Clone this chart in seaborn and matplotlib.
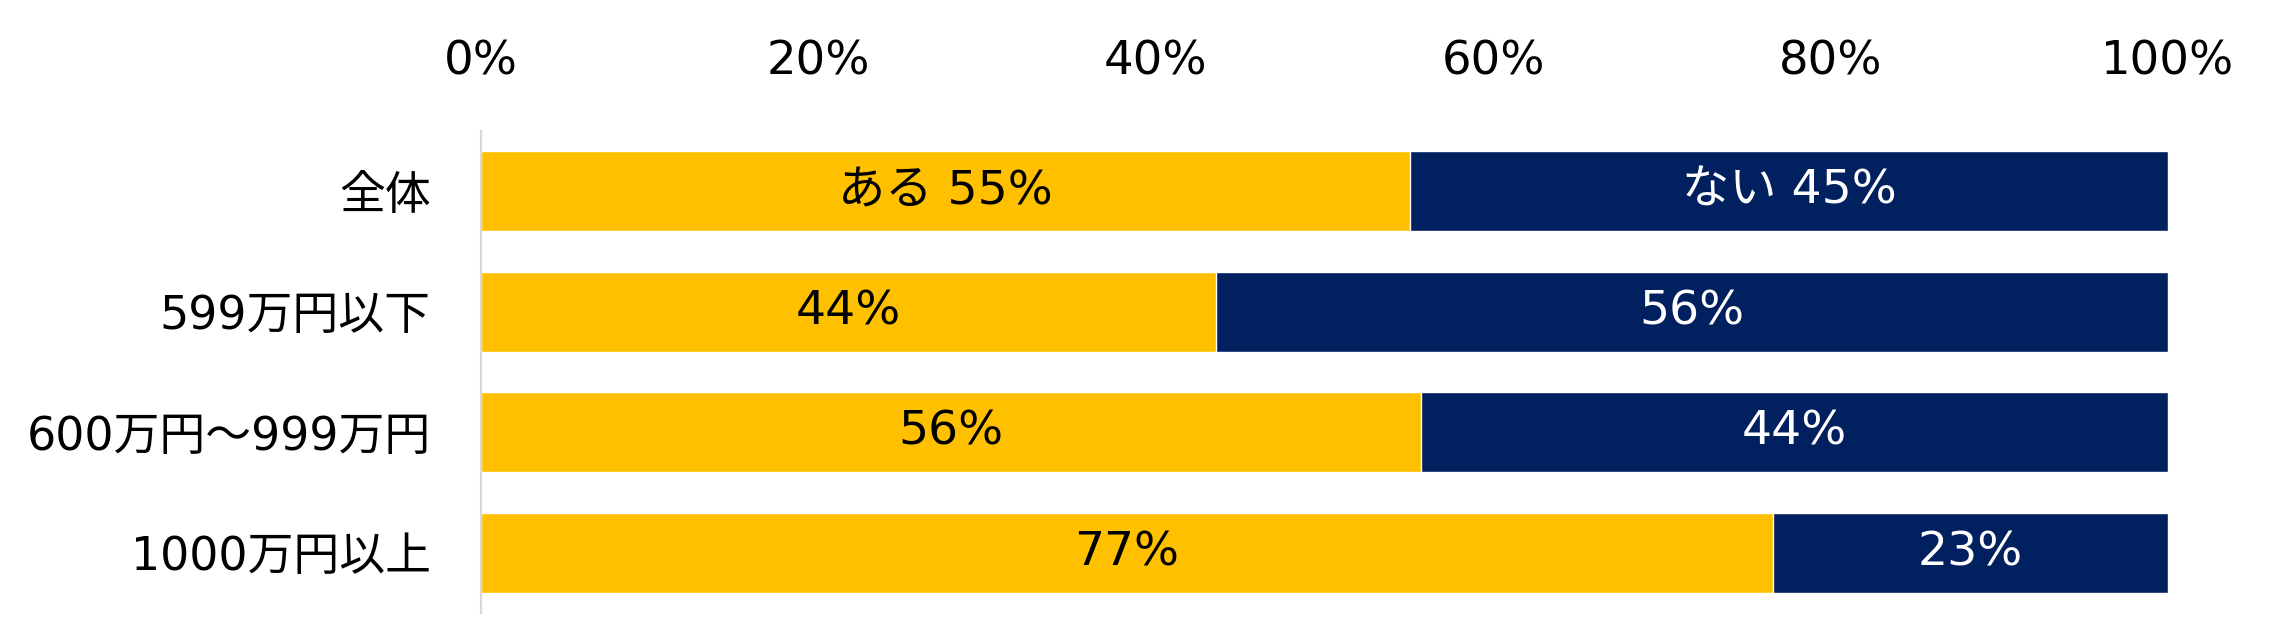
import pandas as pd
import seaborn as sns
import matplotlib.pyplot as plt
from matplotlib.ticker import PercentFormatter

# ------------------------------- Data ----------------------------------------------

groups = ["全体", "599万円以下", "600万円～999万円", "1000万円以上"]
aru = [55.1, 43.6, 55.7, 76.6]   # ある (%)
nai = [44.9, 56.4, 44.3, 23.4]   # ない (%)
x_ticks = [0, 20, 40, 60, 80, 100]

YELLOW = "#FFC000"
NAVY = "#002060"
FONTS = ["DejaVu Sans", "Noto Sans CJK JP"]

# ------------------------------- Visualization ----------------------------------------------

df = pd.DataFrame({"group": groups, "aru": aru, "nai": nai})
df["total"] = df["aru"] + df["nai"]

sns.set_style("white")
plt.rcParams["font.family"] = FONTS
plt.rcParams["text.color"] = "black"
plt.rcParams["xtick.color"] = "black"
plt.rcParams["ytick.color"] = "black"

fig = plt.figure(figsize=(22.82, 6.33), dpi=100)
ax = fig.add_axes([0.2107, 0.032, 0.7393, 0.7606])

# stacked bars: full bar in navy, "ある" part drawn on top in yellow
sns.barplot(data=df, x="total", y="group", color=NAVY, width=0.665, saturation=1, ax=ax)
sns.barplot(data=df, x="aru", y="group", color=YELLOW, width=0.665, saturation=1, ax=ax)

for i, row in df.iterrows():
    a_txt = f"{round(row['aru'])}%"
    n_txt = f"{round(row['nai'])}%"
    if i == 0:
        a_txt = "ある " + a_txt
        n_txt = "ない " + n_txt
    ax.text(row["aru"] / 2, i, a_txt, ha="center", va="center",
            color="black", fontsize=34, family=FONTS)
    ax.text(row["aru"] + row["nai"] / 2, i, n_txt, ha="center", va="center",
            color="white", fontsize=34, family=FONTS)

ax.set_xlim(0, 100)
ax.set_ylim(3.5, -0.5)
ax.set_xticks(x_ticks)
ax.xaxis.set_major_formatter(PercentFormatter(decimals=0))
ax.xaxis.tick_top()
ax.tick_params(axis="x", length=0, pad=34, labelsize=33.5, labelcolor="black")
ax.tick_params(axis="y", length=0, pad=36, labelsize=33, labelcolor="black")
ax.set_xlabel("")
ax.set_ylabel("")

for side in ["top", "right", "bottom"]:
    ax.spines[side].set_visible(False)
ax.spines["left"].set_color("#D9D9D9")
ax.spines["left"].set_linewidth(1.5)

plt.savefig("out.png", dpi=100)
plt.close()
